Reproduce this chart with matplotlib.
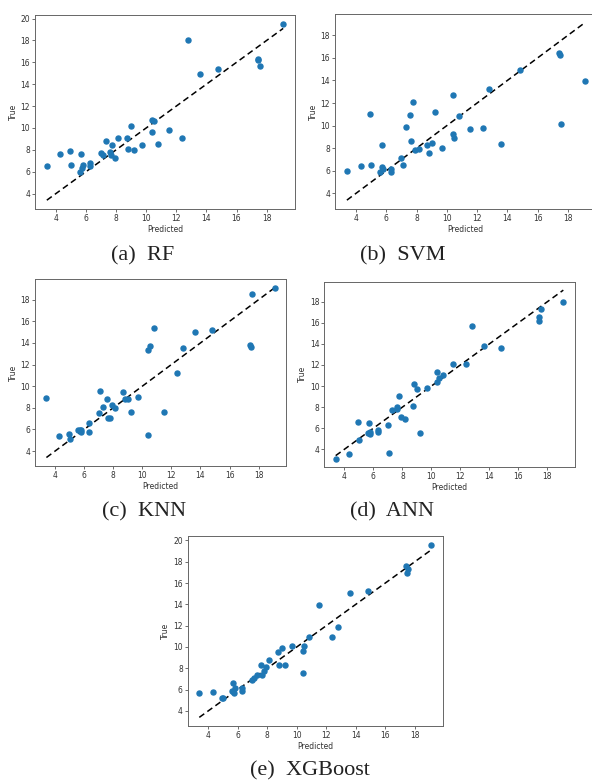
import numpy as np
import matplotlib
matplotlib.use('Agg')
import matplotlib.pyplot as plt

# 测试集真实值（横轴）
y_test = [3.4, 4.3, 4.95, 5.0, 5.6, 5.7, 5.75, 5.8, 6.3, 6.3, 7.0, 7.1,
          7.3, 7.6, 7.65, 7.75, 7.9, 8.15, 8.7, 8.8, 9.0, 9.2, 9.7, 10.4,
          10.4, 10.5, 10.8, 11.5, 12.4, 12.8, 13.6, 14.8, 17.4, 17.45, 17.55, 19.1]

# 各模型的预测结果
pred_rf = [6.55, 7.63, 7.87, 6.63, 5.95, 7.66, 6.38, 6.62, 6.8, 6.55, 7.72, 7.5,
           8.85, 7.77, 7.5, 8.45, 7.26, 9.08, 9.07, 8.05, 10.15, 7.96, 8.47, 10.7,
           9.66, 10.6, 8.5, 9.82, 9.12, 18.0, 14.9, 15.37, 16.3, 16.25, 15.63, 19.52]
pred_svm = [5.95, 6.45, 11.07, 6.5, 5.92, 8.3, 6.3, 6.2, 6.12, 5.89, 7.12, 6.53,
            9.89, 10.9, 8.63, 12.1, 7.8, 7.95, 8.27, 7.54, 8.42, 11.19, 8.03, 12.72,
            9.22, 8.92, 10.84, 9.69, 9.81, 13.28, 8.36, 14.9, 16.4, 16.25, 10.1, 13.93]
pred_knn = [8.92, 5.42, 5.54, 5.08, 5.95, 5.98, 5.8, 5.95, 6.55, 5.78, 7.5, 9.57,
            8.06, 8.77, 7.08, 7.08, 8.25, 7.97, 9.42, 8.8, 8.83, 7.57, 9.02, 13.35,
            5.48, 13.72, 15.38, 7.57, 11.26, 13.54, 15.0, 15.23, 13.8, 13.66, 18.55, 19.08]
pred_ann = [3.12, 3.56, 6.62, 4.85, 5.55, 6.47, 5.49, 5.6, 5.86, 5.68, 6.34, 3.65,
            7.7, 7.86, 8.05, 9.09, 7.07, 6.91, 8.14, 10.23, 9.75, 5.55, 9.85, 11.3,
            10.42, 10.8, 11.08, 12.09, 12.12, 15.69, 13.8, 13.64, 16.55, 16.17, 17.34, 17.99]
pred_xgb = [5.72, 5.78, 5.19, 5.2, 5.9, 6.66, 5.72, 6.16, 6.16, 5.84, 6.94, 7.05,
            7.41, 8.32, 7.41, 7.79, 8.16, 8.82, 9.51, 8.32, 9.92, 8.32, 10.07, 9.67,
            7.57, 10.07, 10.92, 13.96, 10.98, 11.92, 15.1, 15.25, 17.6, 16.97, 17.3, 19.6]

models = ['RF', 'SVM', 'KNN', 'ANN', 'XGBoost']
captions = ['(a)  RF', '(b)  SVM', '(c)  KNN', '(d)  ANN', '(e)  XGBoost']
preds = [pred_rf, pred_svm, pred_knn, pred_ann, pred_xgb]

W, H = 592, 783
# 每个子图坐标轴的像素位置 (left, right, top, bottom)
boxes = [(35, 295, 15, 209), (335, 596.5, 14, 209), (35, 286, 279.3, 466),
         (324.3, 574.7, 281.7, 467), (187.7, 442.7, 536, 726)]
cap_pos = [(143, 256), (403, 256), (144, 512), (392, 512), (310, 771)]

fig = plt.figure(figsize=(W / 100, H / 100), dpi=100)

lo, hi = min(y_test), max(y_test)
for i, (name, pred) in enumerate(zip(models, preds)):
    l, r, t, b = boxes[i]
    ax = fig.add_axes([l / W, 1 - b / H, (r - l) / W, (b - t) / H])
    ax.scatter(y_test, pred, s=13, color='#1f77b4', zorder=3)
    ax.plot([lo, hi], [lo, hi], 'k--', lw=1.1, dashes=(4, 2.5))
    ax.set_xticks([4, 6, 8, 10, 12, 14, 16, 18])
    ax.set_xlabel('Predicted', fontsize=5.5, color='#333333', labelpad=1.5)
    ax.set_ylabel('True', fontsize=5.5, color='#333333', labelpad=2)
    ax.tick_params(labelsize=5.5, length=2, width=0.5, pad=1.5, colors='#333333')
    for sp in ax.spines.values():
        sp.set_color('#666666')
        sp.set_linewidth(0.7)
    cx, cy = cap_pos[i]
    fig.text(cx / W, 1 - cy / H, captions[i], ha='center', va='center',
             fontsize=16, family='Liberation Serif', color='#222222')

plt.savefig('out.png', dpi=100)
